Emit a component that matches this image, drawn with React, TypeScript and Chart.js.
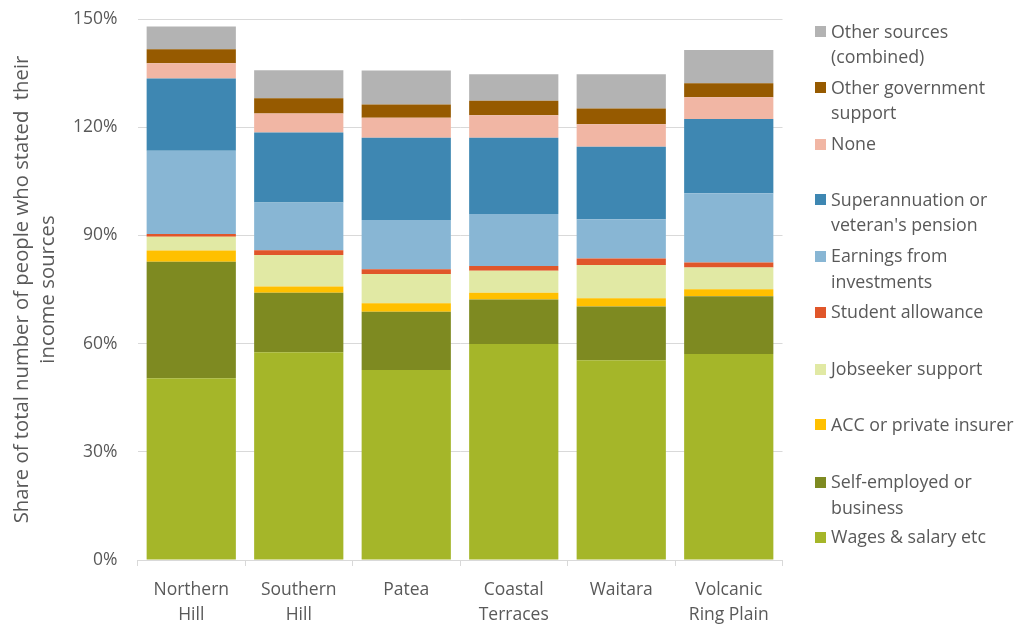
import React, { useEffect, useRef } from "react";
import { Chart, registerables } from "chart.js";

Chart.register(...registerables);

// Districts along the x axis (two-line labels)
const DISTRICTS: string[][] = [
  ["Northern", "Hill"],
  ["Southern", "Hill"],
  ["Patea"],
  ["Coastal", "Terraces"],
  ["Waitara"],
  ["Volcanic", "Ring Plain"],
];

// Share (%) of people reporting each income source, per district
const WAGES = [50.4, 57.6, 52.7, 59.9, 55.4, 57.1];
const SELF_EMPLOYED = [32.3, 16.5, 16.1, 12.3, 14.9, 16.0];
const ACC = [3.1, 1.7, 2.4, 1.9, 2.3, 2.0];
const JOBSEEKER = [3.8, 8.8, 8.1, 6.1, 9.2, 6.0];
const STUDENT = [0.8, 1.3, 1.3, 1.3, 1.8, 1.4];
const INVESTMENTS = [23.1, 13.2, 13.7, 14.4, 10.9, 19.2];
const SUPERANNUATION = [20.0, 19.4, 22.8, 21.2, 20.1, 20.6];
const NONE = [4.2, 5.3, 5.5, 6.2, 6.2, 6.0];
const OTHER_GOVT = [3.9, 4.2, 3.7, 4.0, 4.4, 3.9];
const OTHER_SOURCES = [6.3, 7.8, 9.4, 7.4, 9.5, 9.2];

// Y axis ticks
const Y_MIN = 0;
const Y_MAX = 150;
const Y_STEP = 30;

// Series, stacked from the bottom up
const SERIES = [
  { label: "Wages & salary etc", data: WAGES, color: "#a5b629" },
  { label: "Self-employed or\nbusiness", data: SELF_EMPLOYED, color: "#7e8a21" },
  { label: "ACC or private insurer", data: ACC, color: "#ffc000" },
  { label: "Jobseeker support", data: JOBSEEKER, color: "#e1e9a4" },
  { label: "Student allowance", data: STUDENT, color: "#e0562a" },
  { label: "Earnings from\ninvestments", data: INVESTMENTS, color: "#88b6d4" },
  { label: "Superannuation or\nveteran's pension", data: SUPERANNUATION, color: "#3e87b2" },
  { label: "None", data: NONE, color: "#f1b6a4" },
  { label: "Other government\nsupport", data: OTHER_GOVT, color: "#965a00" },
  { label: "Other sources\n(combined)", data: OTHER_SOURCES, color: "#b3b3b3" },
];

const TEXT_COLOR = "#595959";
const GRID_COLOR = "#d9d9d9";
const FONT_FAMILY = "'Open Sans', sans-serif";
const FONT_SIZE = 17.5;
const LEGEND_FONT_SIZE = 17.8;
const TITLE_FONT_SIZE = 20.3;

// Vertical centre of the first text line of each legend entry (top to bottom)
const LEGEND_ROW_Y = [31.7, 87.5, 144, 199.5, 256, 312, 369, 424.5, 482, 537];
const LEGEND_LINE_HEIGHT = 25.5;

function Legend() {
  const items = [...SERIES].reverse();
  return (
    <>
      {items.map((s, i) => {
        const y = LEGEND_ROW_Y[i];
        const lines = s.label.split("\n");
        return (
          <React.Fragment key={s.label}>
            <div
              style={{
                position: "absolute",
                left: 815,
                top: y - 5.5,
                width: 11,
                height: 11,
                background: s.color,
              }}
            />
            {lines.map((line, j) => (
              <div
                key={j}
                style={{
                  position: "absolute",
                  left: 831,
                  top: y + j * LEGEND_LINE_HEIGHT - LEGEND_LINE_HEIGHT / 2,
                  height: LEGEND_LINE_HEIGHT,
                  lineHeight: `${LEGEND_LINE_HEIGHT}px`,
                  fontFamily: FONT_FAMILY,
                  fontSize: LEGEND_FONT_SIZE,
                  color: TEXT_COLOR,
                  whiteSpace: "nowrap",
                }}
              >
                {line}
              </div>
            ))}
          </React.Fragment>
        );
      })}
    </>
  );
}

export default function App() {
  const canvasRef = useRef<HTMLCanvasElement | null>(null);

  useEffect(() => {
    if (!canvasRef.current) return;
    const chart = new Chart(canvasRef.current, {
      type: "bar",
      data: {
        labels: DISTRICTS,
        datasets: SERIES.map((s) => ({
          label: s.label,
          data: s.data,
          backgroundColor: s.color,
          borderWidth: 0,
          categoryPercentage: 1,
          barPercentage: 0.83,
        })),
      },
      options: {
        animation: false,
        responsive: true,
        maintainAspectRatio: false,
        layout: { padding: { top: 19, right: 241.5, left: 0, bottom: 0 } },
        plugins: {
          legend: { display: false },
          tooltip: { enabled: false },
        },
        scales: {
          x: {
            stacked: true,
            afterFit: (scale: any) => {
              scale.height = 65;
            },
            grid: {
              display: true,
              drawOnChartArea: false,
              drawTicks: true,
              tickLength: 6,
              color: GRID_COLOR,
              offset: true,
            },
            border: { display: true, color: GRID_COLOR },
            ticks: {
              color: TEXT_COLOR,
              padding: 12,
              maxRotation: 0,
              autoSkip: false,
              font: { family: FONT_FAMILY, size: FONT_SIZE, lineHeight: 1.4 },
            },
          },
          y: {
            stacked: true,
            min: Y_MIN,
            max: Y_MAX,
            afterFit: (scale: any) => {
              scale.width = 137.5;
              // the outer layout padding already leaves room for the end labels
              scale.paddingTop = 0;
              scale.paddingBottom = 0;
            },
            grid: {
              color: GRID_COLOR,
              drawTicks: false,
            },
            border: { display: false },
            ticks: {
              stepSize: Y_STEP,
              color: TEXT_COLOR,
              padding: 20,
              font: { family: FONT_FAMILY, size: FONT_SIZE },
              callback: (v: any) => `${v}%`,
            },
            title: {
              display: true,
              text: ["Share of total number of people who stated  their", "income sources"],
              color: TEXT_COLOR,
              font: { family: FONT_FAMILY, size: TITLE_FONT_SIZE, lineHeight: 1.25 },
              padding: { top: 10, bottom: 0 },
            },
          },
        },
      },
    });
    return () => chart.destroy();
  }, []);

  return (
    <div
      style={{
        position: "fixed",
        left: 0,
        top: 0,
        width: 1024,
        height: 625,
        background: "#ffffff",
      }}
    >
      <canvas ref={canvasRef} style={{ position: "absolute", left: 0, top: 0 }} />
      <Legend />
    </div>
  );
}
